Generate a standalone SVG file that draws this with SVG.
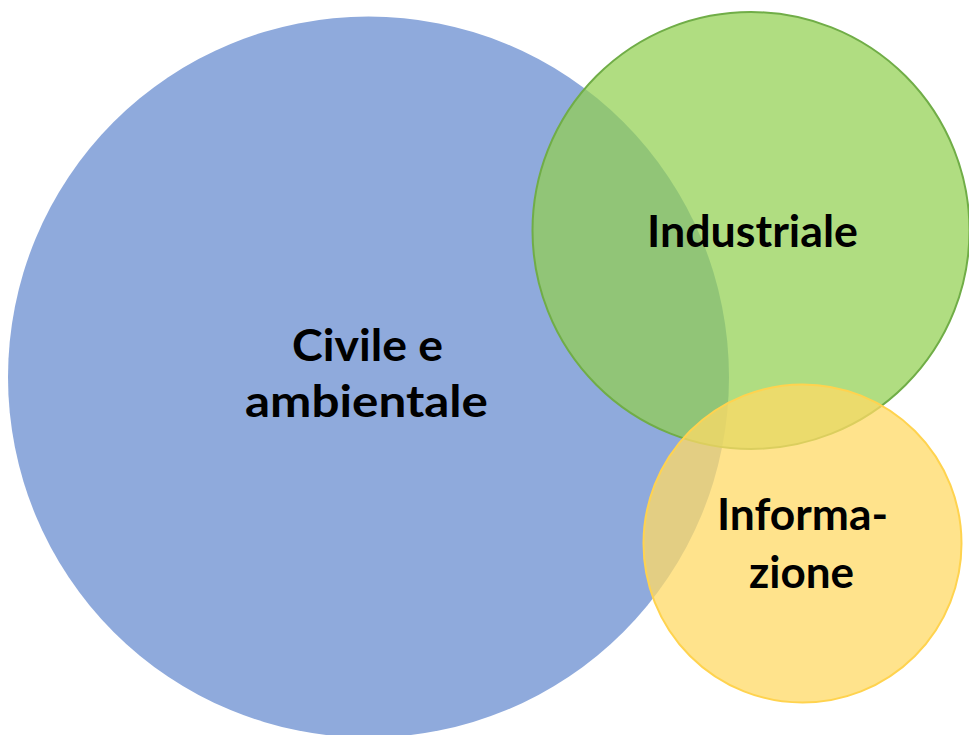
<svg xmlns="http://www.w3.org/2000/svg" width="969" height="735" viewBox="0 0 969 735">
<style>
.lbl{font-family:Lato,"Open Sans","Liberation Sans",sans-serif;font-weight:bold;font-size:43px;fill:#000;text-anchor:middle}
</style>
<rect width="969" height="735" fill="#fff"/>
<g id="civile">
<circle cx="368.5" cy="377" r="360.5" fill="#8FAADC"/>
</g>
<g id="industriale">
<circle cx="751" cy="230.5" r="218.5" fill="#92D050" fill-opacity="0.72" stroke="#70AD47" stroke-width="2"/>
</g>
<g id="informazione">
<circle cx="802.5" cy="543.5" r="159" fill="#FFD966" fill-opacity="0.75" stroke="#FFD34F" stroke-width="2"/>
</g>
<g id="labels">
<text class="lbl" x="367.5" y="361" textLength="151" lengthAdjust="spacingAndGlyphs">Civile e</text>
<text class="lbl" x="366.5" y="417" textLength="243" lengthAdjust="spacingAndGlyphs">ambientale</text>
<text class="lbl" x="752.5" y="247" textLength="211" lengthAdjust="spacingAndGlyphs">Industriale</text>
<text class="lbl" x="802.5" y="530" textLength="171" lengthAdjust="spacingAndGlyphs">Informa-</text>
<text class="lbl" x="801.5" y="588" textLength="105" lengthAdjust="spacingAndGlyphs">zione</text>
</g>
<g id="connectors"></g>
</svg>
